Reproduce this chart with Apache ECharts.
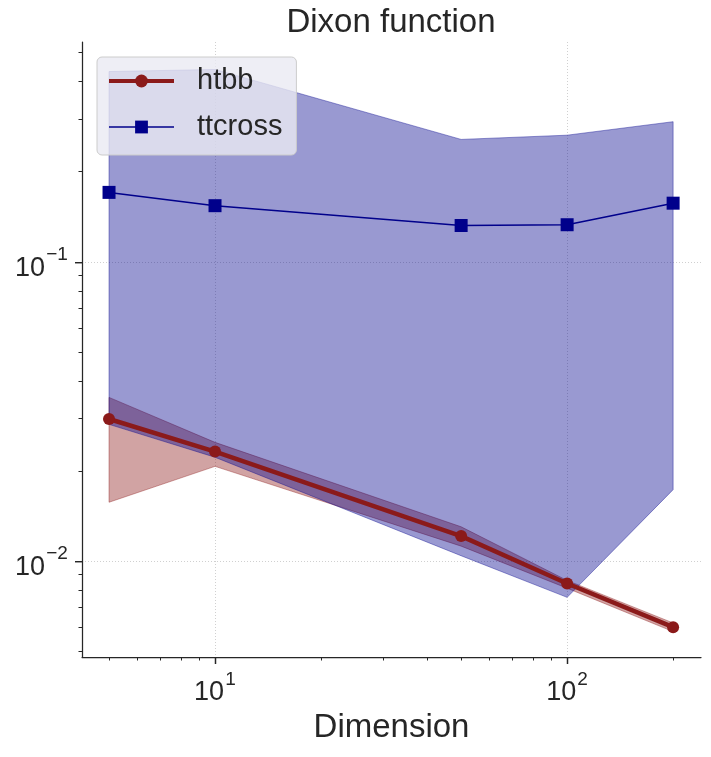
<!DOCTYPE html>
<html>
<head>
<meta charset="utf-8">
<script src="https://cdn.jsdelivr.net/npm/echarts@6/dist/echarts.min.js"></script>
<style>
  html, body { margin: 0; padding: 0; background: #fff; }
  #chart { width: 711px; height: 757px; }
</style>
</head>
<body>
<div id="chart"></div>
<script>
// data
const dims = [5, 10, 50, 100, 200]

const htbbMean = [0.0298, 0.0232, 0.0121, 0.0084, 0.0060]
const htbbLow = [0.0157, 0.0207, 0.0112, 0.0081, 0.0058]
const htbbHigh = [0.0352, 0.0249, 0.0130, 0.0086, 0.0062]

const ttcrossMean = [0.1706, 0.154, 0.1322, 0.133, 0.157]
const ttcrossLow = [0.0286, 0.0222, 0.0104, 0.00755, 0.0173]
const ttcrossHigh = [0.4326, 0.4396, 0.2565, 0.265, 0.294]

const xMajor = [10, 100]
const xMinor = [5, 6, 7, 8, 9, 20, 30, 40, 50, 60, 70, 80, 90, 200]
const yMajor = [0.01, 0.1]
const yMinor = [0.005, 0.006, 0.007, 0.008, 0.009, 0.02, 0.03, 0.04, 0.05, 0.06, 0.07, 0.08, 0.09, 0.2, 0.3, 0.4, 0.5]

const FONT = '"Liberation Sans", Arial, sans-serif'
const INK = '#262626'
const RED = '#8b1a1a'
const BLUE = '#00008b'

const X_MIN = 4.19, X_MAX = 240
const Y_MIN = 0.00477, Y_MAX = 0.543

const pairs = (ys) => dims.map((d, i) => [d, ys[i]])

// ticks sitting exactly on a power of ten get dropped by the log axis,
// so nudge them by a negligible amount
const nudge = (vals) => vals.map((v) => v * 1.00001)

// "10^k" label: exponent on a short first line, "10" on the second,
// both lines padded to the same width so they line up
const supStyle = (w) => ({ fontSize: 19, fontFamily: FONT, color: INK, lineHeight: 13, width: w, align: 'left' })
const rich = {
  g: { fontSize: 19, lineHeight: 13, width: 31 },
  sp: supStyle(11),
  sn: supStyle(22),
  b: { fontSize: 27, fontFamily: FONT, color: INK, lineHeight: 14, width: 30, align: 'left' },
  hp: { fontSize: 27, lineHeight: 14, width: 11 },
  hn: { fontSize: 27, lineHeight: 14, width: 22 },
}
const powLabel = (v) => {
  const e = Math.round(Math.log10(v))
  const neg = e < 0
  const sup = neg ? '\u2212' + (-e) : String(e)
  return '{g| }{' + (neg ? 'sn' : 'sp') + '|' + sup + '}\n{b|10}{' + (neg ? 'hn' : 'hp') + '| }'
}

// filled band between low and high, drawn as one polygon
const band = (low, high, color) => (params, api) => {
  if (params.dataIndex !== 0) return null
  const pts = []
  for (let i = 0; i < dims.length; i++) pts.push(api.coord([dims[i], high[i]]))
  for (let i = dims.length - 1; i >= 0; i--) pts.push(api.coord([dims[i], low[i]]))
  return {
    type: 'polygon',
    shape: { points: pts },
    style: { fill: color, stroke: color, lineWidth: 1 },
  }
}

const mainAxis = (min, max, major, extra) => Object.assign({
  type: 'log',
  logBase: 10,
  min, max,
  axisLine: { show: true, onZero: false, lineStyle: { color: INK, width: 1.25 } },
  axisTick: { show: true, length: 7, customValues: major, lineStyle: { color: INK, width: 1.25 } },
  axisLabel: { customValues: major, formatter: powLabel, rich },
  splitLine: { show: true, lineStyle: { color: '#c4c4c4', width: 0.8, type: [1, 2] } },
}, extra)

// extra axes that only carry tick marks
const tickAxis = (min, max, values, len, width, position) => ({
  type: 'log',
  logBase: 10,
  min, max,
  position,
  axisLine: { show: false },
  axisTick: { show: true, inside: false, length: len, customValues: values, lineStyle: { color: INK, width } },
  axisLabel: { show: false },
  splitLine: { show: false },
})

const chart = echarts.init(document.getElementById('chart'), null, { renderer: 'canvas' })

chart.setOption({
  animation: false,
  backgroundColor: '#ffffff',
  title: {
    text: 'Dixon function',
    left: 391,
    top: 6,
    padding: 0,
    textAlign: 'center',
    textStyle: { fontFamily: FONT, fontSize: 33, fontWeight: 'normal', color: INK },
  },
  grid: { left: 82, right: 10, top: 42, bottom: 100, containLabel: false },
  legend: {
    data: [
      { name: 'htbb', lineStyle: { width: 4 } },
      { name: 'ttcross', lineStyle: { width: 1.5 } },
    ],
    orient: 'vertical',
    left: 97,
    top: 57,
    padding: [6, 14, 10, 10],
    itemGap: 10,
    itemWidth: 65,
    itemHeight: 16,
    backgroundColor: 'rgba(234,234,242,0.8)',
    borderColor: '#cccccc',
    borderWidth: 1,
    borderRadius: 5,
    textStyle: { fontFamily: FONT, fontSize: 29, color: INK, lineHeight: 36, padding: [0, 0, 0, 18] },
  },
  xAxis: [
    mainAxis(X_MIN, X_MAX, xMajor, {
      position: 'bottom',
      name: 'Dimension',
      nameLocation: 'middle',
      nameGap: 54,
      nameTextStyle: { fontFamily: FONT, fontSize: 33, color: INK },
      axisLabel: { customValues: xMajor, formatter: powLabel, rich, margin: 16 },
    }),
    tickAxis(X_MIN, X_MAX, xMinor, 3.5, 1, 'bottom'),
    tickAxis(X_MIN, X_MAX, nudge(xMajor), 7, 1.25, 'bottom'),
  ],
  yAxis: [
    mainAxis(Y_MIN, Y_MAX, yMajor, {
      position: 'left',
      axisLabel: { customValues: yMajor, formatter: powLabel, rich, margin: 14 },
    }),
    tickAxis(Y_MIN, Y_MAX, yMinor, 3.5, 1, 'left'),
    tickAxis(Y_MIN, Y_MAX, nudge(yMajor), 7, 1.25, 'left'),
  ],
  series: [
    {
      name: 'htbb band',
      type: 'custom',
      xAxisIndex: 0, yAxisIndex: 0,
      renderItem: band(htbbLow, htbbHigh, 'rgba(139,26,26,0.4)'),
      data: pairs(htbbMean),
      silent: true,
    },
    {
      name: 'ttcross band',
      type: 'custom',
      xAxisIndex: 0, yAxisIndex: 0,
      renderItem: band(ttcrossLow, ttcrossHigh, 'rgba(0,0,139,0.4)'),
      data: pairs(ttcrossMean),
      silent: true,
    },
    {
      name: 'htbb',
      type: 'line',
      xAxisIndex: 0, yAxisIndex: 0,
      data: pairs(htbbMean),
      symbol: 'circle',
      symbolSize: 12,
      color: RED,
      itemStyle: { color: RED },
      lineStyle: { color: RED, width: 4.5 },
    },
    {
      name: 'ttcross',
      type: 'line',
      xAxisIndex: 0, yAxisIndex: 0,
      data: pairs(ttcrossMean),
      symbol: 'rect',
      symbolSize: 13,
      color: BLUE,
      itemStyle: { color: BLUE },
      lineStyle: { color: BLUE, width: 1.5 },
    },
  ],
})
</script>
</body>
</html>
